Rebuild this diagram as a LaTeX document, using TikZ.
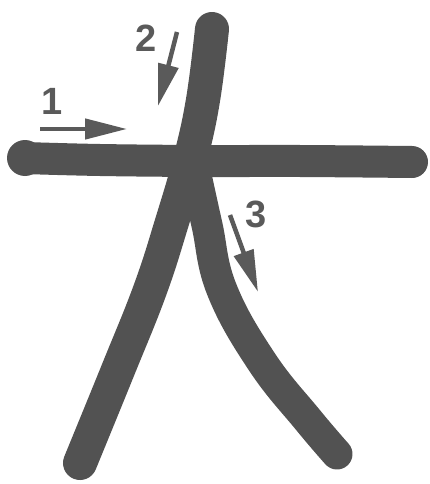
\documentclass[tikz,border=0pt]{standalone}
\usepackage{fontspec}
\setmainfont{Liberation Sans}
\usepackage{xcolor}
\definecolor{ink}{RGB}{82, 82, 82}
\definecolor{hintink}{RGB}{90, 90, 90}
\usetikzlibrary{arrows.meta}

\begin{document}
\begin{tikzpicture}[
  x=1pt, y=-1pt,
  brush/.style={draw=ink, line cap=round, line join=round},
  digit/.style={text=hintink, font=\fontsize{38}{38}\selectfont\bfseries, inner sep=0pt},
  hint/.style={-{Triangle[length=42pt, width=20pt]}, draw=hintink, line width=4.5pt}
]
\useasboundingbox (0,0) rectangle (430,484);

% strokes of the character
\draw[brush, line width=32pt] plot[smooth, tension=0.6] coordinates {(24,158) (100,160) (200,161) (300,161) (412,162)};
\fill[ink] (25,158) circle (18pt);
\draw[brush, line width=34pt] plot[smooth, tension=0.7] coordinates {(212,29) (203,100) (190,160) (172,222) (150,290) (118,370) (80,463)};
\draw[brush, line width=31pt] plot[smooth, tension=0.7] coordinates {(196,175) (207,225) (222,290) (262,362) (308,420) (337,454)};

% stroke order hints
\node[digit] (one) at (52,101) {1};
\node[digit] (two) at (146,38) {2};
\node[digit] (three) at (256,214) {3};

\coordinate (s1) at (40,129);
\coordinate (e1) at (127,129);
\coordinate (s2) at (177,32);
\coordinate (e2) at (158,106);
\coordinate (s3) at (230,215);
\coordinate (e3) at (258,292);

\draw[hint] (s1) -- (e1);
\draw[hint] (s2) -- (e2);
\draw[hint] (s3) -- (e3);
\end{tikzpicture}
\end{document}
